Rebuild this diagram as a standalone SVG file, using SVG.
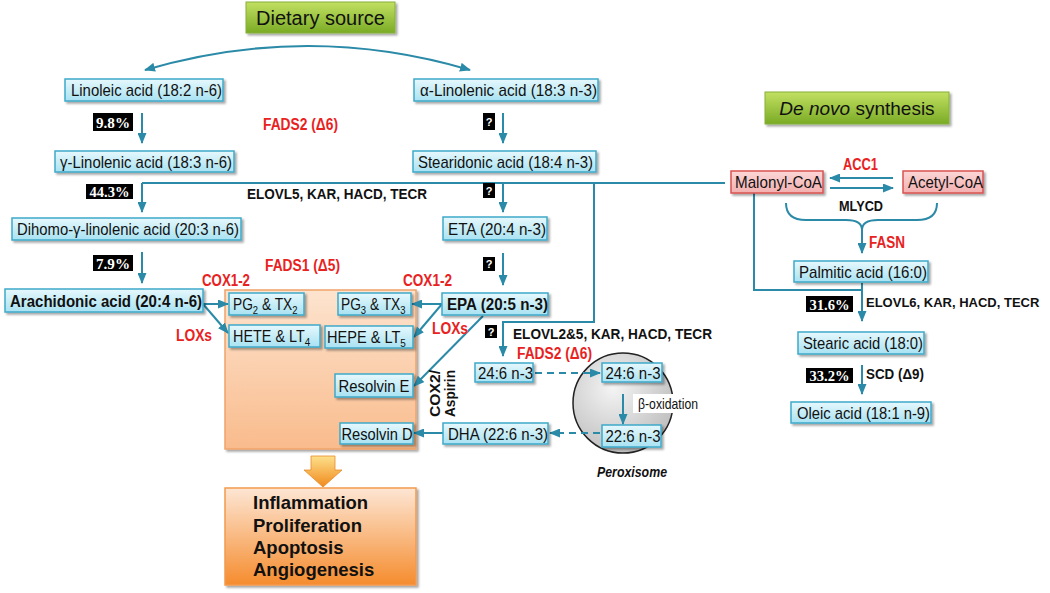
<svg xmlns="http://www.w3.org/2000/svg" width="1050" height="593" viewBox="0 0 1050 593">
<style>
.bx{fill:url(#gBlue);stroke:#3fa9c9;stroke-width:1.5;filter:url(#sh)}
.pk{fill:url(#gPink);stroke:#d9534f;stroke-width:1.5;filter:url(#sh)}
.t{font-family:"Liberation Sans",Arial,sans-serif;font-size:17px;fill:#111;text-anchor:middle}
.ts{font-family:"Liberation Sans",Arial,sans-serif;font-size:16px;fill:#111}
.tb{font-family:"Liberation Sans",Arial,sans-serif;font-size:16.5px;font-weight:bold;fill:#111;text-anchor:middle}
.red{font-family:"Liberation Sans",Arial,sans-serif;font-size:16px;font-weight:bold;fill:#e8221e;text-anchor:middle}
.lab{font-family:"Liberation Sans",Arial,sans-serif;font-size:15px;font-weight:bold;fill:#111}
.pc{fill:#000}
.pct{font-family:"Liberation Serif","Times New Roman",serif;font-size:15px;font-weight:bold;fill:#fff;text-anchor:middle}
.q{font-family:"Liberation Sans",Arial,sans-serif;font-size:11px;font-weight:bold;fill:#fff;text-anchor:middle}
.ln{fill:none;stroke:#2a8aa8;stroke-width:2}
.ar{fill:none;stroke:#2a8aa8;stroke-width:2;marker-end:url(#ah)}
.da{fill:none;stroke:#2a8aa8;stroke-width:2;stroke-dasharray:7,5;marker-end:url(#ah)}
.green{fill:url(#gGreen);stroke:#86b03a;stroke-width:1;filter:url(#sh)}
.big{font-family:"Liberation Sans",Arial,sans-serif;font-size:18.5px;font-weight:bold;fill:#111}
</style>
<defs>
<linearGradient id="gBlue" x1="0" y1="0" x2="0" y2="1"><stop offset="0" stop-color="#e6f8fd"/><stop offset="1" stop-color="#a9e2f2"/></linearGradient>
<linearGradient id="gPink" x1="0" y1="0" x2="0" y2="1"><stop offset="0" stop-color="#fbd6d6"/><stop offset="1" stop-color="#f3b0b0"/></linearGradient>
<linearGradient id="gGreen" x1="0" y1="0" x2="0" y2="1"><stop offset="0" stop-color="#c2e062"/><stop offset="1" stop-color="#7aab25"/></linearGradient>
<linearGradient id="gOr1" x1="0" y1="0" x2="0" y2="1"><stop offset="0" stop-color="#fde4cf"/><stop offset="1" stop-color="#f9bb8c"/></linearGradient>
<linearGradient id="gOr2" x1="0" y1="0" x2="0" y2="1"><stop offset="0" stop-color="#fde6d4"/><stop offset="1" stop-color="#f58c2e"/></linearGradient>
<linearGradient id="gOr3" x1="0" y1="0" x2="0" y2="1"><stop offset="0" stop-color="#fde08a"/><stop offset="1" stop-color="#f08a1e"/></linearGradient>
<radialGradient id="gCirc" cx="0.4" cy="0.35" r="0.7"><stop offset="0" stop-color="#f4f4f4"/><stop offset="1" stop-color="#bdbdbd"/></radialGradient>
<filter id="sh" x="-10%" y="-20%" width="125%" height="160%"><feDropShadow dx="2" dy="2" stdDeviation="1.2" flood-color="#000" flood-opacity="0.35"/></filter>
<marker id="ah" markerWidth="11" markerHeight="9" refX="10" refY="4.5" orient="auto-start-reverse" markerUnits="userSpaceOnUse"><path d="M0,0 L11,4.5 L0,9 z" fill="#2a8aa8"/></marker>
</defs>
<rect width="1050" height="593" fill="#fff"/>

<g id="orange-area">
<rect x="225" y="290" width="191" height="159" fill="url(#gOr1)" stroke="#f0a36a" stroke-width="1.5" filter="url(#sh)"/>
</g>

<g id="peroxisome">
<circle cx="623" cy="403" r="50" fill="url(#gCirc)" stroke="#222" stroke-width="1.5"/>
<text x="632" y="477" font-family="Liberation Sans, Arial, sans-serif" font-size="15px" font-weight="bold" font-style="italic" fill="#111" text-anchor="middle" textLength="70" lengthAdjust="spacingAndGlyphs">Peroxisome</text>
</g>

<g id="connectors">
<path class="ln" d="M145,70 Q308,22 470,70" marker-start="url(#ah)" marker-end="url(#ah)"/>
<path class="ar" d="M142,113 L142,143"/>
<path class="ar" d="M503,113 L503,143"/>
<path class="ln" d="M725,183 L142,183"/>
<path class="ar" d="M142,183 L142,212"/>
<path class="ar" d="M503,183 L503,212"/>
<path class="ar" d="M594,183 L594,322 L503,322 L503,356"/>
<path class="ar" d="M142,252 L142,283"/>
<path class="ar" d="M503,253 L503,285"/>
<path class="ar" d="M203,304 L228,304"/>
<path class="ar" d="M203,304 L228,333"/>
<path class="ar" d="M442,304 L412,304"/>
<path class="ar" d="M442,304 L414,337"/>
<path class="ar" d="M483,316 L414,386"/>
<path class="ar" d="M443,433 L414,433"/>
<path class="da" d="M535,373 L600,373"/>
<path class="da" d="M600,433 L550,433"/>
<path class="ar" d="M623,394 L623,424"/>
<path class="ar" d="M893,178 L830,178"/>
<path class="ar" d="M830,188 L893,188"/>
<path class="ln" d="M786,203 Q786,220 806,220 L846,220 Q862,220 862,230 Q862,220 878,220 L917,220 Q937,220 937,203"/>
<path class="ar" d="M862,228 L862,253"/>
<path class="ln" d="M754,193 L754,290 L862,290"/>
<path class="ar" d="M862,283 L862,321"/>
<path class="ar" d="M862,365 L862,394"/>
</g>

<g id="dietary-source">
<rect class="green" x="246" y="2" width="149" height="31"/>
<text x="320.5" y="25" font-family="Liberation Sans, Arial, sans-serif" font-size="20px" fill="#111" text-anchor="middle">Dietary source</text>
</g>
<g id="de-novo">
<rect class="green" x="765" y="92" width="184" height="32"/>
<text x="857" y="115" font-family="Liberation Sans, Arial, sans-serif" font-size="19px" fill="#111" text-anchor="middle"><tspan font-style="italic">De novo</tspan> synthesis</text>
</g>

<g id="linoleic"><rect class="bx" x="65" y="79" width="158" height="22"/><text class="t" x="146.5" y="96" textLength="151" lengthAdjust="spacingAndGlyphs">Linoleic acid (18:2 n-6)</text></g>
<g id="gla"><rect class="bx" x="55" y="151" width="179" height="21"/><text class="t" x="146" y="167.5" textLength="172" lengthAdjust="spacingAndGlyphs">γ-Linolenic acid (18:3 n-6)</text></g>
<g id="dgla"><rect class="bx" x="12" y="218" width="229" height="22"/><text class="t" x="128" y="235" textLength="222" lengthAdjust="spacingAndGlyphs">Dihomo-γ-linolenic acid (20:3 n-6)</text></g>
<g id="aa"><rect class="bx" x="5" y="289" width="198" height="23"/><text class="tb" x="106" y="306.5" textLength="192" lengthAdjust="spacingAndGlyphs">Arachidonic acid (20:4 n-6)</text></g>
<g id="ala"><rect class="bx" x="414" y="79" width="184" height="22"/><text class="t" x="508.5" y="96" textLength="177" lengthAdjust="spacingAndGlyphs">α-Linolenic acid (18:3 n-3)</text></g>
<g id="sda"><rect class="bx" x="413" y="151" width="183" height="21"/><text class="t" x="505.5" y="167.5" textLength="175" lengthAdjust="spacingAndGlyphs">Stearidonic acid (18:4 n-3)</text></g>
<g id="eta"><rect class="bx" x="443" y="217" width="104" height="23"/><text class="t" x="497" y="234.5" textLength="98" lengthAdjust="spacingAndGlyphs">ETA (20:4 n-3)</text></g>
<g id="epa"><rect class="bx" x="442" y="293" width="106" height="22"/><text class="tb" x="497.5" y="310" textLength="101" lengthAdjust="spacingAndGlyphs">EPA (20:5 n-3)</text></g>
<g id="pg2"><rect class="bx" x="229" y="293" width="75" height="22"/><text class="ts" transform="translate(233,309.5) scale(0.86,1)">PG<tspan font-size="11px" dy="4">2</tspan><tspan dy="-4"> &amp; TX</tspan><tspan font-size="11px" dy="4">2</tspan></text></g>
<g id="hete"><rect class="bx" x="229" y="325" width="91" height="22"/><text class="ts" transform="translate(233,341.5) scale(0.9,1)">HETE &amp; LT<tspan font-size="11px" dy="4">4</tspan></text></g>
<g id="pg3"><rect class="bx" x="338" y="293" width="73" height="22"/><text class="ts" transform="translate(341,309.5) scale(0.86,1)">PG<tspan font-size="11px" dy="4">3</tspan><tspan dy="-4"> &amp; TX</tspan><tspan font-size="11px" dy="4">3</tspan></text></g>
<g id="hepe"><rect class="bx" x="325" y="326" width="88" height="22"/><text class="ts" transform="translate(327,342.5) scale(0.91,1)">HEPE &amp; LT<tspan font-size="11px" dy="4">5</tspan></text></g>
<g id="resolvin-e"><rect class="bx" x="335" y="374" width="78" height="23"/><text class="t" x="374" y="391.5" textLength="71" lengthAdjust="spacingAndGlyphs">Resolvin E</text></g>
<g id="resolvin-d"><rect class="bx" x="340" y="423" width="73" height="21"/><text class="t" x="377" y="439.5" textLength="71" lengthAdjust="spacingAndGlyphs">Resolvin D</text></g>
<g id="dha"><rect class="bx" x="443" y="423" width="105" height="21"/><text class="t" x="498" y="439.5" textLength="100" lengthAdjust="spacingAndGlyphs">DHA (22:6 n-3)</text></g>
<g id="c24a"><rect class="bx" x="475" y="363" width="58" height="19"/><text class="t" x="505.5" y="378.5" textLength="55" lengthAdjust="spacingAndGlyphs">24:6 n-3</text></g>
<g id="c24b"><rect class="bx" x="602" y="363" width="60" height="19"/><text class="t" x="633" y="378.5" textLength="55" lengthAdjust="spacingAndGlyphs">24:6 n-3</text></g>
<g id="c22"><rect class="bx" x="602" y="425" width="59" height="22"/><text class="t" x="633" y="442" textLength="55" lengthAdjust="spacingAndGlyphs">22:6 n-3</text></g>
<g id="malonyl"><rect class="pk" x="731" y="171" width="92" height="22"/><text class="t" x="778.5" y="188" textLength="87" lengthAdjust="spacingAndGlyphs">Malonyl-CoA</text></g>
<g id="acetyl"><rect class="pk" x="903" y="171" width="80" height="22"/><text class="t" x="945.5" y="188" textLength="75" lengthAdjust="spacingAndGlyphs">Acetyl-CoA</text></g>
<g id="palmitic"><rect class="bx" x="794" y="261" width="134" height="21"/><text class="t" x="863" y="277.5" textLength="128" lengthAdjust="spacingAndGlyphs">Palmitic acid (16:0)</text></g>
<g id="stearic"><rect class="bx" x="798" y="332" width="126" height="22"/><text class="t" x="863" y="349" textLength="120" lengthAdjust="spacingAndGlyphs">Stearic acid (18:0)</text></g>
<g id="oleic"><rect class="bx" x="791" y="402" width="140" height="21"/><text class="t" x="863.5" y="418.5" textLength="133" lengthAdjust="spacingAndGlyphs">Oleic acid (18:1 n-9)</text></g>

<g id="beta-ox">
<rect x="633" y="394" width="67" height="19" fill="#fff"/>
<text x="668" y="409" font-family="Liberation Sans, Arial, sans-serif" font-size="15px" fill="#111" text-anchor="middle" textLength="60" lengthAdjust="spacingAndGlyphs">β-oxidation</text>
</g>

<g id="outcome-arrow"><polygon points="311,456 335,456 335,470 342,470 323,487 304,470 311,470" fill="url(#gOr3)" stroke="#e88a2a" stroke-width="0.8"/></g>
<g id="outcomes">
<rect x="225" y="488" width="191" height="97" fill="url(#gOr2)" stroke="#f39a4c" stroke-width="1.5" filter="url(#sh)"/>
<text class="big" x="253" y="509">Inflammation</text>
<text class="big" x="253" y="532">Proliferation</text>
<text class="big" x="253" y="554">Apoptosis</text>
<text class="big" x="253" y="576">Angiogenesis</text>
</g>

<g id="enzyme-labels">
<text class="red" x="300.5" y="130" textLength="75" lengthAdjust="spacingAndGlyphs">FADS2 (Δ6)</text>
<text class="red" x="302.5" y="271" textLength="75" lengthAdjust="spacingAndGlyphs">FADS1 (Δ5)</text>
<text class="red" x="226" y="286" textLength="48" lengthAdjust="spacingAndGlyphs">COX1-2</text>
<text class="red" x="194" y="341" textLength="36" lengthAdjust="spacingAndGlyphs">LOXs</text>
<text class="red" x="427.5" y="286" textLength="49" lengthAdjust="spacingAndGlyphs">COX1-2</text>
<text class="red" x="450" y="334" textLength="36" lengthAdjust="spacingAndGlyphs">LOXs</text>
<text class="red" x="554.5" y="359" textLength="75" lengthAdjust="spacingAndGlyphs">FADS2 (Δ6)</text>
<text class="red" x="860.5" y="170" textLength="35" lengthAdjust="spacingAndGlyphs">ACC1</text>
<text class="red" x="887" y="248" textLength="36" lengthAdjust="spacingAndGlyphs">FASN</text>
<text class="lab" x="247" y="198.5" textLength="180" lengthAdjust="spacingAndGlyphs">ELOVL5, KAR, HACD, TECR</text>
<text class="lab" x="513" y="338.5" textLength="199" lengthAdjust="spacingAndGlyphs">ELOVL2&amp;5, KAR, HACD, TECR</text>
<text class="lab" x="866" y="307" style="font-size:13px">ELOVL6, KAR, HACD, TECR</text>
<text class="lab" x="866" y="378.5" textLength="58" lengthAdjust="spacingAndGlyphs">SCD (Δ9)</text>
<text class="lab" x="861" y="210.5" text-anchor="middle" textLength="44" lengthAdjust="spacingAndGlyphs">MLYCD</text>
<text class="lab" transform="translate(440,417) rotate(-90)" textLength="47" lengthAdjust="spacingAndGlyphs">COX2/</text>
<text class="lab" transform="translate(455,417) rotate(-90)" textLength="47" lengthAdjust="spacingAndGlyphs">Aspirin</text>
</g>

<g id="percent-labels">
<rect class="pc" x="93" y="113" width="40" height="18"/><text class="pct" x="113" y="127.5" textLength="34" lengthAdjust="spacingAndGlyphs">9.8%</text>
<rect class="pc" x="86" y="184" width="47" height="15"/><text class="pct" x="109.5" y="197" textLength="40" lengthAdjust="spacingAndGlyphs">44.3%</text>
<rect class="pc" x="93" y="255" width="40" height="16"/><text class="pct" x="113" y="268.5" textLength="34" lengthAdjust="spacingAndGlyphs">7.9%</text>
<rect class="pc" x="806" y="296" width="47" height="16"/><text class="pct" x="829.5" y="309.5" textLength="40" lengthAdjust="spacingAndGlyphs">31.6%</text>
<rect class="pc" x="806" y="368" width="47" height="15"/><text class="pct" x="829.5" y="381" textLength="40" lengthAdjust="spacingAndGlyphs">33.2%</text>
<rect class="pc" x="483" y="113" width="12" height="17"/><text class="q" x="489" y="125.5">?</text>
<rect class="pc" x="483" y="183" width="12" height="15"/><text class="q" x="489" y="194.5">?</text>
<rect class="pc" x="483" y="257" width="12" height="14"/><text class="q" x="489" y="268">?</text>
<rect class="pc" x="485" y="325" width="12" height="13"/><text class="q" x="491" y="335.5">?</text>
</g>
</svg>
